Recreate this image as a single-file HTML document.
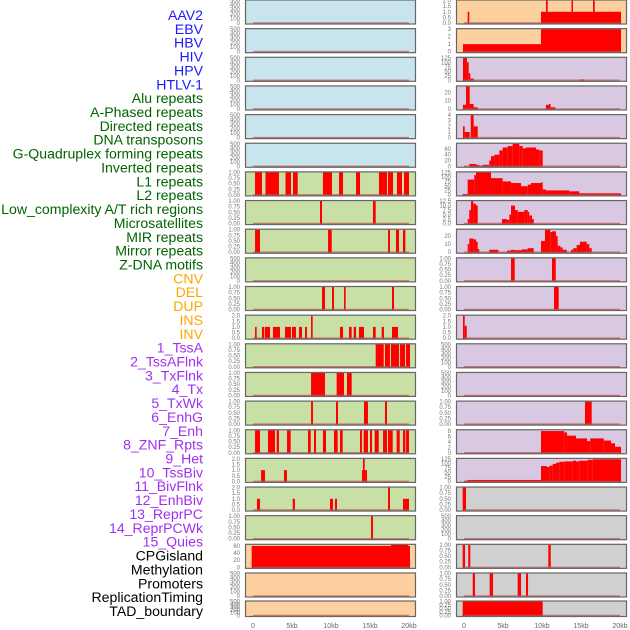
<!DOCTYPE html>
<html><head><meta charset="utf-8">
<style>
html,body{margin:0;padding:0;background:#fff;}
svg{display:block;font-family:"Liberation Sans",sans-serif;}
</style></head>
<body>
<svg id="chart" width="630" height="630" viewBox="0 0 630 630" xmlns="http://www.w3.org/2000/svg">
<g id="labels"></g>
<g id="panels"></g>
<g id="xaxis"></g>
</svg>
<script>
const trackLabels = ["AAV2","EBV","HBV","HIV","HPV","HTLV-1","Alu repeats","A-Phased repeats","Directed repeats","DNA transposons","G-Quadruplex forming repeats","Inverted repeats","L1 repeats","L2 repeats","Low_complexity A/T rich regions","Microsatellites","MIR repeats","Mirror repeats","Z-DNA motifs","CNV","DEL","DUP","INS","INV","1_TssA","2_TssAFlnk","3_TxFlnk","4_Tx","5_TxWk","6_EnhG","7_Enh","8_ZNF_Rpts","9_Het","10_TssBiv","11_BivFlnk","12_EnhBiv","13_ReprPC","14_ReprPCWk","15_Quies","CPGisland","Methylation","Promoters","ReplicationTiming","TAD_boundary"];
const labelGroups = ["v","v","v","v","v","v","r","r","r","r","r","r","r","r","r","r","r","r","r","s","s","s","s","s","c","c","c","c","c","c","c","c","c","c","c","c","c","c","c","o","o","o","o","o"];
const xTickValues = [0,5,10,15,20];
const xTickLabels = ["0","5kb","10kb","15kb","20kb"];
const tick500 = [0,100,200,300,400,500];
const tick1 = [0,0.25,0.5,0.75,1];
const tick2 = [0,0.5,1,1.5,2];
// left column: [start kb, end kb, value]
const leftBg = ["b","b","b","b","b","b","g","g","g","g","g","g","g","g","g","g","g","g","g","o","o","o"];
const leftTicks = [tick500,tick500,tick500,tick500,tick500,tick500,tick1,tick1,tick1,tick500,tick1,tick2,tick1,tick1,tick1,tick1,tick2,tick2,tick1,[0,20,40,60],tick500,tick500];
const leftMax = [500,500,500,500,500,500,1,1,1,500,1,2,1,1,1,1,2,2,1,63,500,500];
const leftData = [[],[],[],[],[],[],
 [[0.26,1.15,1],[1.6,3.33,1],[4.17,4.87,1],[5.13,5.73,1],[8.97,10.13,1],[11.03,11.54,1],[13.21,13.72,1],[16.15,17.18,1],[17.31,17.95,1],[18.46,19.1,1],[19.36,20.0,1]],
 [[8.59,8.85,1],[15.38,15.73,1]],
 [[0.26,0.9,1],[9.62,10.09,1],[17.31,17.56,1],[18.33,18.72,1],[19.23,19.53,1]],
 [],
 [[8.85,9.23,1],[10.13,10.38,1],[11.67,11.88,1],[17.82,18.08,1]],
 [[0.26,0.47,1],[1.15,1.41,1],[1.5,2.18,1],[2.56,3.46,1],[4.1,4.87,1],[5.0,5.51,1],[5.9,6.28,1],[6.67,6.92,1],[7.44,7.65,2],[11.15,11.54,1],[12.31,12.65,1],[12.91,13.21,1],[13.59,14.23,1],[15.38,15.73,1],[16.5,16.79,1],[17.82,18.59,1]],
 [[15.73,16.76,1],[16.92,17.56,1],[17.69,18.72,1],[18.85,19.49,1],[19.62,20.13,1]],
 [[7.44,9.23,1],[10.73,11.67,1],[12.05,12.65,1]],
 [[7.44,7.69,1],[10.64,10.9,1],[14.23,14.74,1],[16.92,17.18,1]],
 [[0.26,0.9,1],[1.92,2.82,1],[3.04,3.33,1],[4.36,4.83,1],[7.05,7.4,1],[7.82,8.08,1],[8.97,9.36,1],[10.38,10.86,1],[11.15,11.5,1],[13.72,13.97,1],[14.19,14.74,1],[15.0,15.26,1],[15.6,16.12,1],[16.67,17.18,1],[17.31,17.91,1],[18.42,18.81,1],[19.23,19.53,1],[19.62,20.0,1]],
 [[1.03,1.54,1],[3.97,4.36,1],[13.97,14.62,1],[14.1,14.32,2]],
 [[0.51,0.9,1],[5.09,5.38,1],[9.87,10.26,1],[10.51,10.77,1],[19.23,20.0,1],[17.31,17.56,2]],
 [[15.13,15.38,1]],
 [[-0.17,20.13,60],[17.69,19.87,63]],
 [],[]];
const rightBg = ["o","o","p","p","p","p","p","p","p","p","p","p","p","p","p","p","p","y","y","y","y","y"];
const rightTicks = [tick2,[0,1,2,3],[0,25,50,75,100,125],[0,10,20],[0,1,2,3,4],[0,20,40,60],[0,25,50,75,100,125],[0,2.5,5,7.5,10,12.5],[0,10,20],tick1,tick1,tick2,tick500,tick500,tick1,[0,2,4,6,8],[0,25,50,75,100,125],tick1,tick500,tick1,tick1,tick1];
const rightMax = [2,3,125,27,4,78,125,12.5,28,1,1,2,500,500,1,8.3,125,1,500,1,1,1];
const rightData = [
 [[0.47,0.68,1],[9.87,20.13,1],[10.51,10.73,2],[13.78,13.96,2],[16.54,16.76,2]],
 [[-0.13,9.87,1],[9.87,20.13,3]],
 [[-0.13,0.38,125],[0.38,0.6,100],[0.6,0.81,40],[0.81,1.24,10],[14.81,15.45,5]],
 [[-0.13,0.26,5],[0.26,0.73,27],[0.73,1.24,6],[1.24,1.76,2],[10.51,11.06,5],[10.9,11.06,6],[11.06,11.71,2]],
 [[-0.13,0.09,2],[0.09,0.73,1],[0.86,1.24,4],[1.24,1.76,2]],
 [[0.68,1.54,8],[1.54,1.96,5],[1.96,2.4,2],[2.4,3.24,5],[3.24,3.46,20],[3.46,3.88,35],[3.88,4.53,40],[4.53,4.96,55],[4.96,5.6,65],[5.6,6.24,70],[6.24,7.09,78],[7.09,7.53,70],[7.53,7.95,62],[7.95,9.23,65],[9.23,9.65,58],[9.65,10.09,55]],
 [[-0.17,0.47,5],[0.47,1.32,85],[1.32,1.54,110],[1.54,3.46,125],[3.46,4.96,93],[4.96,6.03,75],[6.03,7.31,66],[7.31,8.17,48],[8.17,8.59,57],[8.59,9.87,66],[9.87,10.09,70],[10.09,10.51,30],[10.51,13.5,25],[13.5,14.78,20],[14.78,20.13,9]],
 [[0.47,0.68,2.5],[0.68,0.9,7.5],[0.9,1.19,12.5],[1.19,1.54,11],[1.54,1.76,10],[4.87,5.51,2.5],[5.51,5.81,2],[5.81,6.03,5],[6.03,6.54,10],[6.54,6.88,7.5],[6.88,7.73,6.5],[7.73,8.17,7.5],[8.17,8.37,6.5],[8.37,8.72,4.5],[8.72,8.94,2.5]],
 [[0.47,0.68,10],[0.68,1.19,17],[1.19,1.54,16],[1.54,1.76,13],[1.76,1.88,4],[3.24,4.4,3],[5.51,6.03,2],[6.03,6.45,3],[6.45,7.44,2.5],[7.44,8.17,3.5],[8.17,8.94,5],[9.87,10.38,14],[10.38,11.06,28],[11.06,11.28,25],[11.28,11.79,26],[11.79,12.01,20],[12.01,12.35,8],[12.35,12.65,6],[12.65,13.17,3],[13.72,14.01,3],[14.01,14.45,5],[14.45,14.87,9],[14.87,15.73,13],[15.73,16.06,10],[16.06,16.37,5]],
 [[6.03,6.5,1],[11.28,11.76,1]],
 [[11.54,12.14,1]],
 [[-0.13,0.09,2],[0.09,0.35,1.1]],
 [],[],
 [[15.51,16.37,1]],
 [[9.87,12.86,8],[12.86,13.21,7.5],[13.21,14.36,6.3],[14.36,15.77,5.3],[15.77,16.19,4.3],[16.19,17.91,5.3],[17.91,18.85,4.5],[18.85,19.36,3.5],[19.36,20.13,2.2]],
 [[0.04,0.26,3],[0.26,0.47,5],[0.47,9.87,8],[9.87,10.64,85],[10.64,10.94,80],[10.94,11.37,87],[11.37,11.79,97],[11.79,12.22,104],[12.22,12.86,109],[12.86,13.94,111],[13.94,14.36,115],[14.36,14.78,111],[14.78,15.86,115],[15.86,16.5,120],[16.5,20.13,123]],
 [[-0.17,0.26,1]],
 [],
 [[-0.17,0.13,1],[0.55,0.81,1],[10.81,11.12,1]],
 [[1.12,1.41,1],[3.29,3.72,1],[6.88,7.31,1],[7.95,8.21,1]],
 [[-0.17,10.09,1]]
];

const NS = "http://www.w3.org/2000/svg";
const bgColors = {b:"#c8e4ec",g:"#c8e0a5",o:"#fdd0a0",p:"#d8c8e2",y:"#d0d0d0"};
const labelColors = {v:"#1a1aff",r:"#006400",s:"#ffa500",c:"#a030f0",o:"#000000"};
function mk(tag, attrs, parent){const e=document.createElementNS(NS,tag);for(const k in attrs)e.setAttribute(k,attrs[k]);parent.appendChild(e);return e;}

const lg = document.getElementById("labels");
trackLabels.forEach((t,i)=>{
  const el = mk("text",{x:203,y:20+i*13.86,"text-anchor":"end","font-size":"14.1",fill:labelColors[labelGroups[i]]},lg);
  el.textContent = t;
  
  
});

const colX = [245, 456];
const panelW = 171;
function xScale(col, kb){ return colX[col] + 8 + kb*7.8; }
function rowTop(i){ return i<21 ? i*28.65-0.5 : 600.5; }
function rowH(i){ return i<21 ? 25 : 16.5; }
function fmtTick(v, arr){
  const m = Math.max(...arr);
  if(m===1) return v.toFixed(2);
  if(m===2 || m===12.5) return v.toFixed(1);
  return String(v);
}
const pg = document.getElementById("panels");
function drawCol(col, bgs, ticks, maxes, data){
  for(let i=0;i<bgs.length;i++){
    const top=rowTop(i), h=rowH(i), x0=colX[col];
    const g = mk("g",{},pg);
    
    
    const r = mk("rect",{x:x0,y:top,width:panelW,height:h,fill:bgColors[bgs[i]]},g);
    
    
    const yb = top+h-1.5, yt = top+1;
    const ys = v => yb - (v/maxes[i])*(yb-yt);
    data[i].forEach(s=>{
      const bx=xScale(col,s[0]), ex=xScale(col,s[1]);
      const b = mk("rect",{x:bx,y:ys(s[2]),width:Math.max(ex-bx,1.5),height:yb-ys(s[2])+0.5,fill:"#ff0000"},g);
      
      
    });
    const bl = mk("line",{x1:xScale(col,0),x2:xScale(col,20),y1:yb,y2:yb,stroke:"#c0504d","stroke-width":"1.5","stroke-opacity":"0.7"},g);
    
    
    const fr = mk("rect",{x:x0+0.5,y:top+0.5,width:panelW-1,height:h-1,fill:"none",stroke:"#666","stroke-width":"1.2"},g);
    
    
    ticks[i].forEach(v=>{
      const t = mk("text",{x:x0-5,y:ys(v)+2,"text-anchor":"end","font-size":"6",fill:"#777"},g);
      t.textContent = fmtTick(v, ticks[i]);
      
      
    });
  }
}
drawCol(0,leftBg,leftTicks,leftMax,leftData);
drawCol(1,rightBg,rightTicks,rightMax,rightData);

const xg = document.getElementById("xaxis");
[0,1].forEach(col=>{
  xTickValues.forEach((v,k)=>{
    const t = mk("text",{x:xScale(col,v),y:628,"text-anchor":"middle","font-size":"7",fill:"#666"},xg);
    t.textContent = xTickLabels[k];
    
    
  });
});
</script>
</body></html>
